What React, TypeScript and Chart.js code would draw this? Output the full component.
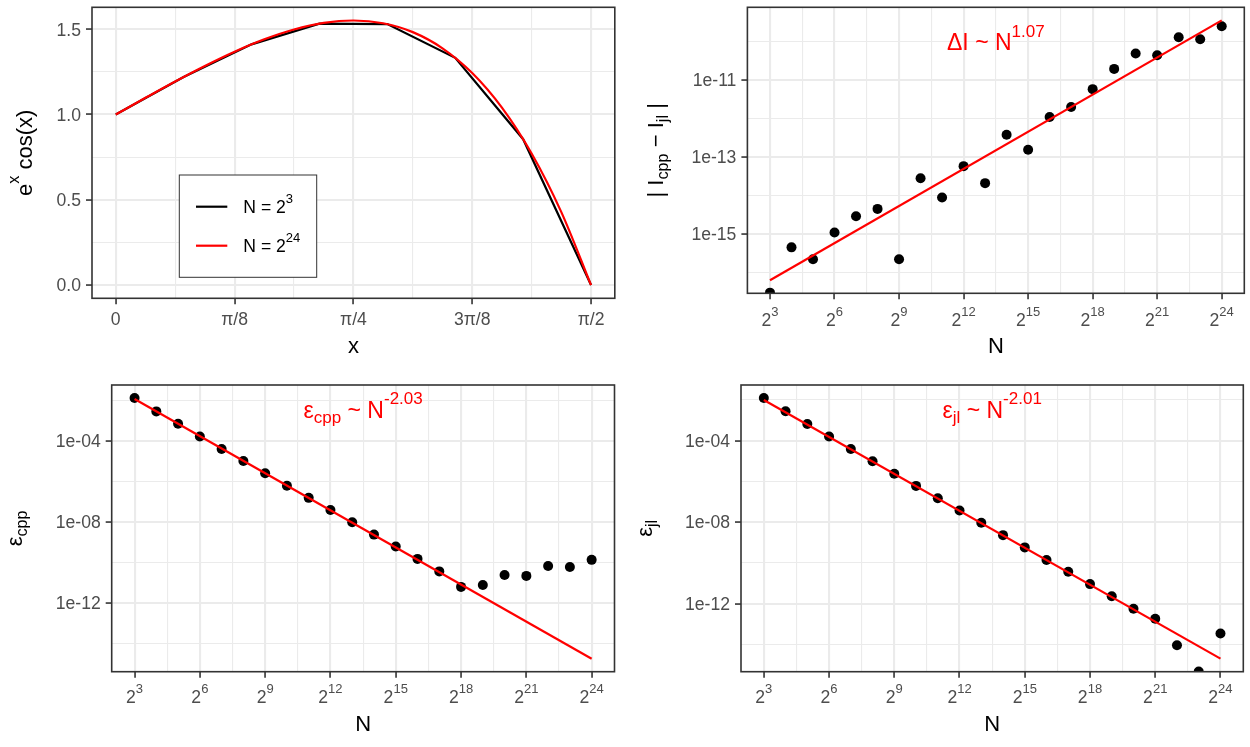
import React, { useEffect, useRef } from 'react';
import { Chart, registerables } from 'chart.js';

Chart.register(...registerables);

const FONT = '"Liberation Sans", Arial, Helvetica, sans-serif';
const PI = Math.PI;

// ---------- Data: panel A (e^x cos(x)) ----------
const xCoarse = [0, 0.2244, 0.4488, 0.6732, 0.8976, 1.122, 1.3464, 1.5708];
const yCoarse = [1.0, 1.2202, 1.4113, 1.5328, 1.5299, 1.3325, 0.8553, 0.0];
const xFine = [0, 0.0982, 0.1963, 0.2945, 0.3927, 0.4909, 0.589, 0.6872, 0.7854, 0.8836, 0.9817, 1.0799, 1.1781, 1.2763, 1.3744, 1.4726, 1.5708];
const yFine = [1.0, 1.0978, 1.1936, 1.2847, 1.3682, 1.4408, 1.4985, 1.5369, 1.5509, 1.5349, 1.4829, 1.388, 1.243, 1.0401, 0.7712, 0.4274, 0.0];

// ---------- Data: convergence panels ----------
const N = [8, 16, 32, 64, 128, 256, 512, 1024, 2048, 4096, 8192, 16384, 32768, 65536, 131072, 262144, 524288, 1048576, 2097152, 4194304, 8388608, 16777216];
const absDiff = [3.0e-17, 4.5e-16, 2.2e-16, 1.1e-15, 2.9e-15, 4.5e-15, 2.2e-16, 2.8e-14, 8.9e-15, 5.8e-14, 2.1e-14, 3.8e-13, 1.55e-13, 1.1e-12, 2.0e-12, 5.8e-12, 1.95e-11, 4.9e-11, 4.4e-11, 1.3e-10, 1.15e-10, 2.5e-10];
const errCpp = [1.29e-2, 2.8e-3, 6.9e-4, 1.6e-4, 3.9e-5, 1.0e-5, 2.45e-6, 6.0e-7, 1.5e-7, 3.8e-8, 9.3e-9, 2.3e-9, 5.9e-10, 1.45e-10, 3.5e-11, 6.0e-12, 7.4e-12, 2.3e-11, 2.1e-11, 6.5e-11, 5.8e-11, 1.3e-10];
const errJl = [1.23e-2, 2.75e-3, 6.6e-4, 1.6e-4, 3.9e-5, 9.8e-6, 2.35e-6, 6.0e-7, 1.5e-7, 3.7e-8, 9.3e-9, 2.3e-9, 5.75e-10, 1.4e-10, 3.7e-11, 9.1e-12, 2.3e-12, 5.6e-13, 1.8e-13, 9.1e-15, 4.7e-16, 3.4e-14];
const fitN = [8, 16777216];
const fitDiff = [6.3e-17, 3.55e-10];
const fitCpp = [1.15e-2, 1.7e-15];
const fitJl = [9.8e-3, 2.0e-15];

// ---------- Ticks ----------
const xTicksA = [0, PI / 8, PI / 4, (3 * PI) / 8, PI / 2];
const xTickLabelsA = ['0', 'π/8', 'π/4', '3π/8', 'π/2'];
const xMinorA = [PI / 16, (3 * PI) / 16, (5 * PI) / 16, (7 * PI) / 16];
const yTicksA = [0, 0.5, 1.0, 1.5];
const yTickLabelsA = ['0.0', '0.5', '1.0', '1.5'];
const yMinorA = [0.25, 0.75, 1.25];

const nTicks = [8, 64, 512, 4096, 32768, 262144, 2097152, 16777216];
const nTickExps = ['3', '6', '9', '12', '15', '18', '21', '24'];
const nMinorExps = [4.5, 7.5, 10.5, 13.5, 16.5, 19.5, 22.5];

const yTicksB = [1e-11, 1e-13, 1e-15];
const yTickLabelsB = ['1e-11', '1e-13', '1e-15'];
const yMinorB = [1e-10, 1e-12, 1e-14, 1e-16];
const yTicksCD = [1e-4, 1e-8, 1e-12];
const yTickLabelsCD = ['1e-04', '1e-08', '1e-12'];
const yMinorCD = [1e-2, 1e-6, 1e-10, 1e-14];

type Seg = { t: string; k?: 'sup' | 'sub' };

const SUP = 0.74;

function segSize(s: Seg, size: number) {
  return s.k ? size * SUP : size;
}
function measureRich(ctx: CanvasRenderingContext2D, segs: Seg[], size: number) {
  let w = 0;
  for (const s of segs) {
    ctx.font = `${segSize(s, size)}px ${FONT}`;
    w += ctx.measureText(s.t).width;
  }
  return w;
}
function drawRich(
  ctx: CanvasRenderingContext2D,
  segs: Seg[],
  x: number,
  y: number,
  size: number,
  color: string,
  align: 'left' | 'center' | 'right'
) {
  const w = measureRich(ctx, segs, size);
  let cx = align === 'center' ? x - w / 2 : align === 'right' ? x - w : x;
  ctx.fillStyle = color;
  ctx.textAlign = 'left';
  ctx.textBaseline = 'alphabetic';
  for (const s of segs) {
    ctx.font = `${segSize(s, size)}px ${FONT}`;
    const dy = s.k === 'sup' ? -size * 0.58 : s.k === 'sub' ? size * 0.22 : 0;
    ctx.fillText(s.t, cx, y + dy);
    cx += ctx.measureText(s.t).width;
  }
}

interface PanelSpec {
  key: string;
  pos: { left: number; top: number; w: number; h: number };
  area: { l: number; t: number; r: number; b: number };
  xType: 'linear' | 'logarithmic';
  xMin: number;
  xMax: number;
  yType: 'linear' | 'logarithmic';
  yMin: number;
  yMax: number;
  xMajor: number[];
  xMinor: number[];
  xLabels: Seg[][];
  yMajor: number[];
  yMinor: number[];
  yLabels: string[];
  xLabelOffset: number;
  xTitle: Seg[];
  xTitleBaseline: number;
  yTitle: Seg[];
  yTitleBaseline: number;
  datasets: any[];
  annotation?: { segs: Seg[]; x: number; y: number };
  legend?: boolean;
}

const pts = (xs: number[], ys: number[]) => xs.map((x, i) => ({ x, y: ys[i] }));

const pointsDs = (ys: number[]) => ({
  data: pts(N, ys),
  showLine: false,
  pointRadius: 5,
  pointBorderWidth: 0,
  pointBackgroundColor: '#000000',
  pointBorderColor: '#000000',
  clip: 0,
  order: 1,
});
const fitDs = (ys: number[]) => ({
  data: pts(fitN, ys),
  showLine: true,
  borderColor: '#FF0000',
  borderWidth: 2.2,
  pointRadius: 0,
  clip: 0,
  order: 0,
});

const nLabels: Seg[][] = nTickExps.map((e) => [{ t: '2' }, { t: e, k: 'sup' }]);
const nMinor = nMinorExps.map((e) => Math.pow(2, e));
const LOG_XMIN = Math.pow(2, 1.95);
const LOG_XMAX = Math.pow(2, 25.05);

const panels: PanelSpec[] = [
  {
    key: 'A',
    pos: { left: 0, top: 0, w: 625, h: 370 },
    area: { l: 92, t: 7.3, r: 614.8, b: 298.3 },
    xType: 'linear',
    xMin: -0.0785,
    xMax: 1.6493,
    yType: 'linear',
    yMin: -0.0775,
    yMax: 1.6284,
    xMajor: xTicksA,
    xMinor: xMinorA,
    xLabels: xTickLabelsA.map((t) => [{ t }]),
    yMajor: yTicksA,
    yMinor: yMinorA,
    yLabels: yTickLabelsA,
    xLabelOffset: 26.7,
    xTitle: [{ t: 'x' }],
    xTitleBaseline: 353,
    yTitle: [{ t: 'e' }, { t: 'x', k: 'sup' }, { t: ' cos(x)' }],
    yTitleBaseline: 32,
    datasets: [
      {
        label: 'N = 2^24',
        data: pts(xFine, yFine),
        showLine: true,
        borderColor: '#FF0000',
        borderWidth: 2.2,
        pointRadius: 0,
        cubicInterpolationMode: 'monotone',
        order: 0,
      },
      {
        label: 'N = 2^3',
        data: pts(xCoarse, yCoarse),
        showLine: true,
        borderColor: '#000000',
        borderWidth: 2.2,
        pointRadius: 0,
        order: 1,
      },
    ],
    legend: true,
  },
  {
    key: 'B',
    pos: { left: 625, top: 0, w: 625, h: 370 },
    area: { l: 122.4, t: 7.3, r: 619.3, b: 293.3 },
    xType: 'logarithmic',
    xMin: LOG_XMIN,
    xMax: LOG_XMAX,
    yType: 'logarithmic',
    yMin: Math.pow(10, -16.54),
    yMax: Math.pow(10, -9.11),
    xMajor: nTicks,
    xMinor: nMinor,
    xLabels: nLabels,
    yMajor: yTicksB,
    yMinor: yMinorB,
    yLabels: yTickLabelsB,
    xLabelOffset: 32.7,
    xTitle: [{ t: 'N' }],
    xTitleBaseline: 353,
    yTitle: [{ t: '| I' }, { t: 'cpp', k: 'sub' }, { t: ' − I' }, { t: 'jl', k: 'sub' }, { t: ' |' }],
    yTitleBaseline: 38,
    datasets: [fitDs(fitDiff), pointsDs(absDiff)],
    annotation: { segs: [{ t: 'ΔI ~ N' }, { t: '1.07', k: 'sup' }], x: 11585, y: 5.9e-11 },
  },
  {
    key: 'C',
    pos: { left: 0, top: 370, w: 625, h: 377 },
    area: { l: 111.7, t: 15, r: 614.5, b: 301.7 },
    xType: 'logarithmic',
    xMin: LOG_XMIN,
    xMax: LOG_XMAX,
    yType: 'logarithmic',
    yMin: Math.pow(10, -15.41),
    yMax: Math.pow(10, -1.25),
    xMajor: nTicks,
    xMinor: nMinor,
    xLabels: nLabels,
    yMajor: yTicksCD,
    yMinor: yMinorCD,
    yLabels: yTickLabelsCD,
    xLabelOffset: 31.6,
    xTitle: [{ t: 'N' }],
    xTitleBaseline: 361,
    yTitle: [{ t: 'ε' }, { t: 'cpp', k: 'sub' }],
    yTitleBaseline: 22,
    datasets: [fitDs(fitCpp), pointsDs(errCpp)],
    annotation: { segs: [{ t: 'ε' }, { t: 'cpp', k: 'sub' }, { t: ' ~ N' }, { t: '-2.03', k: 'sup' }], x: 11585, y: 1.35e-3 },
  },
  {
    key: 'D',
    pos: { left: 625, top: 370, w: 625, h: 377 },
    area: { l: 116, t: 15, r: 618.3, b: 301.7 },
    xType: 'logarithmic',
    xMin: LOG_XMIN,
    xMax: LOG_XMAX,
    yType: 'logarithmic',
    yMin: Math.pow(10, -15.34),
    yMax: Math.pow(10, -1.27),
    xMajor: nTicks,
    xMinor: nMinor,
    xLabels: nLabels,
    yMajor: yTicksCD,
    yMinor: yMinorCD,
    yLabels: yTickLabelsCD,
    xLabelOffset: 31.6,
    xTitle: [{ t: 'N' }],
    xTitleBaseline: 361,
    yTitle: [{ t: 'ε' }, { t: 'jl', k: 'sub' }],
    yTitleBaseline: 27,
    datasets: [fitDs(fitJl), pointsDs(errJl)],
    annotation: { segs: [{ t: 'ε' }, { t: 'jl', k: 'sub' }, { t: ' ~ N' }, { t: '-2.01', k: 'sup' }], x: 11585, y: 1.35e-3 },
  },
];

const TICK_FONT = 17.6;
const TICK_COLOR = '#4D4D4D';
const TITLE_FONT = 22;
const ANNOT_FONT = 23;

function makeTicks(major: number[], minor: number[]) {
  return [...major.map((v) => ({ value: v })), ...minor.map((v) => ({ value: v, minor: true }))].sort(
    (a, b) => a.value - b.value
  );
}

function gridOpts() {
  return {
    display: true,
    drawOnChartArea: true,
    drawTicks: true,
    tickLength: 6,
    color: '#EBEBEB',
    lineWidth: (c: any) => (c.tick && c.tick.minor ? 1.1 : 2.1),
    tickColor: (c: any) => (c.tick && c.tick.minor ? 'rgba(0,0,0,0)' : '#333333'),
    tickWidth: 1.6,
  };
}

function decorPlugin(spec: PanelSpec) {
  return {
    id: 'decor' + spec.key,
    afterDatasetsDraw(chart: any) {
      const { ctx, chartArea } = chart;
      ctx.save();
      ctx.strokeStyle = '#333333';
      ctx.lineWidth = 1.6;
      ctx.strokeRect(chartArea.left, chartArea.top, chartArea.right - chartArea.left, chartArea.bottom - chartArea.top);
      ctx.restore();
    },
    afterDraw(chart: any) {
      const { ctx, chartArea } = chart;
      const xs = chart.scales.x;
      const ys = chart.scales.y;
      ctx.save();
      // y tick labels
      spec.yMajor.forEach((v, i) => {
        const y = ys.getPixelForValue(v);
        drawRich(ctx, [{ t: spec.yLabels[i] }], chartArea.left - 11, y + 6.3, TICK_FONT, TICK_COLOR, 'right');
      });
      // x tick labels
      spec.xMajor.forEach((v, i) => {
        const x = xs.getPixelForValue(v);
        drawRich(ctx, spec.xLabels[i], x, chartArea.bottom + spec.xLabelOffset, TICK_FONT, TICK_COLOR, 'center');
      });
      // x title
      drawRich(ctx, spec.xTitle, (chartArea.left + chartArea.right) / 2, spec.xTitleBaseline, TITLE_FONT, '#000000', 'center');
      // y title (rotated)
      ctx.save();
      ctx.translate(spec.yTitleBaseline, (chartArea.top + chartArea.bottom) / 2);
      ctx.rotate(-Math.PI / 2);
      drawRich(ctx, spec.yTitle, 0, 0, TITLE_FONT, '#000000', 'center');
      ctx.restore();
      // annotation
      if (spec.annotation) {
        const ax = xs.getPixelForValue(spec.annotation.x);
        const ay = ys.getPixelForValue(spec.annotation.y);
        drawRich(ctx, spec.annotation.segs, ax, ay, ANNOT_FONT, '#FF0000', 'center');
      }
      // legend
      if (spec.legend) {
        const bx = 179.3, by = 175, bw = 137.4, bh = 102.3;
        ctx.fillStyle = '#FFFFFF';
        ctx.fillRect(bx, by, bw, bh);
        ctx.strokeStyle = '#333333';
        ctx.lineWidth = 1;
        ctx.strokeRect(bx, by, bw, bh);
        const items: { color: string; segs: Seg[]; y: number }[] = [
          { color: '#000000', segs: [{ t: 'N = 2' }, { t: '3', k: 'sup' }], y: 206.7 },
          { color: '#FF0000', segs: [{ t: 'N = 2' }, { t: '24', k: 'sup' }], y: 245.7 },
        ];
        items.forEach((it) => {
          ctx.strokeStyle = it.color;
          ctx.lineWidth = 2.2;
          ctx.beginPath();
          ctx.moveTo(196, it.y);
          ctx.lineTo(227.3, it.y);
          ctx.stroke();
          drawRich(ctx, it.segs, 243.3, it.y + 6.3, TICK_FONT, '#000000', 'left');
        });
      }
      ctx.restore();
    },
  };
}

function buildConfig(spec: PanelSpec): any {
  const { area, pos } = spec;
  return {
    type: 'scatter',
    data: { datasets: spec.datasets },
    options: {
      responsive: true,
      maintainAspectRatio: false,
      animation: false,
      devicePixelRatio: 1,
      events: [],
      layout: {
        autoPadding: false,
        padding: { left: area.l, top: area.t, right: pos.w - area.r, bottom: pos.h - area.b },
      },
      plugins: { legend: { display: false }, tooltip: { enabled: false } },
      scales: {
        x: {
          type: spec.xType,
          position: 'bottom',
          min: spec.xMin,
          max: spec.xMax,
          bounds: 'data',
          ticks: { display: false, autoSkip: false },
          border: { display: false },
          grid: gridOpts(),
          afterBuildTicks: (s: any) => {
            s.ticks = makeTicks(spec.xMajor, spec.xMinor);
          },
          afterFit: (s: any) => {
            s.height = 0;
            s.paddingLeft = 0;
            s.paddingRight = 0;
            s.paddingTop = 0;
            s.paddingBottom = 0;
          },
        },
        y: {
          type: spec.yType,
          position: 'left',
          min: spec.yMin,
          max: spec.yMax,
          bounds: 'data',
          ticks: { display: false, autoSkip: false },
          border: { display: false },
          grid: gridOpts(),
          afterBuildTicks: (s: any) => {
            s.ticks = makeTicks(spec.yMajor, spec.yMinor);
          },
          afterFit: (s: any) => {
            s.width = 0;
            s.paddingLeft = 0;
            s.paddingRight = 0;
            s.paddingTop = 0;
            s.paddingBottom = 0;
          },
        },
      },
    },
    plugins: [decorPlugin(spec)],
  };
}

function PanelChart({ spec }: { spec: PanelSpec }) {
  const ref = useRef<HTMLCanvasElement>(null);
  useEffect(() => {
    if (!ref.current) return;
    const chart = new Chart(ref.current, buildConfig(spec));
    return () => chart.destroy();
  }, [spec]);
  return (
    <div
      style={{
        position: 'absolute',
        left: spec.pos.left,
        top: spec.pos.top,
        width: spec.pos.w,
        height: spec.pos.h,
      }}
    >
      <canvas ref={ref} style={{ display: 'block' }} />
    </div>
  );
}

export default function App() {
  return (
    <div
      style={{
        position: 'fixed',
        left: 0,
        top: 0,
        width: 1250,
        height: 747,
        background: '#FFFFFF',
        overflow: 'hidden',
      }}
    >
      {panels.map((p) => (
        <PanelChart key={p.key} spec={p} />
      ))}
    </div>
  );
}
